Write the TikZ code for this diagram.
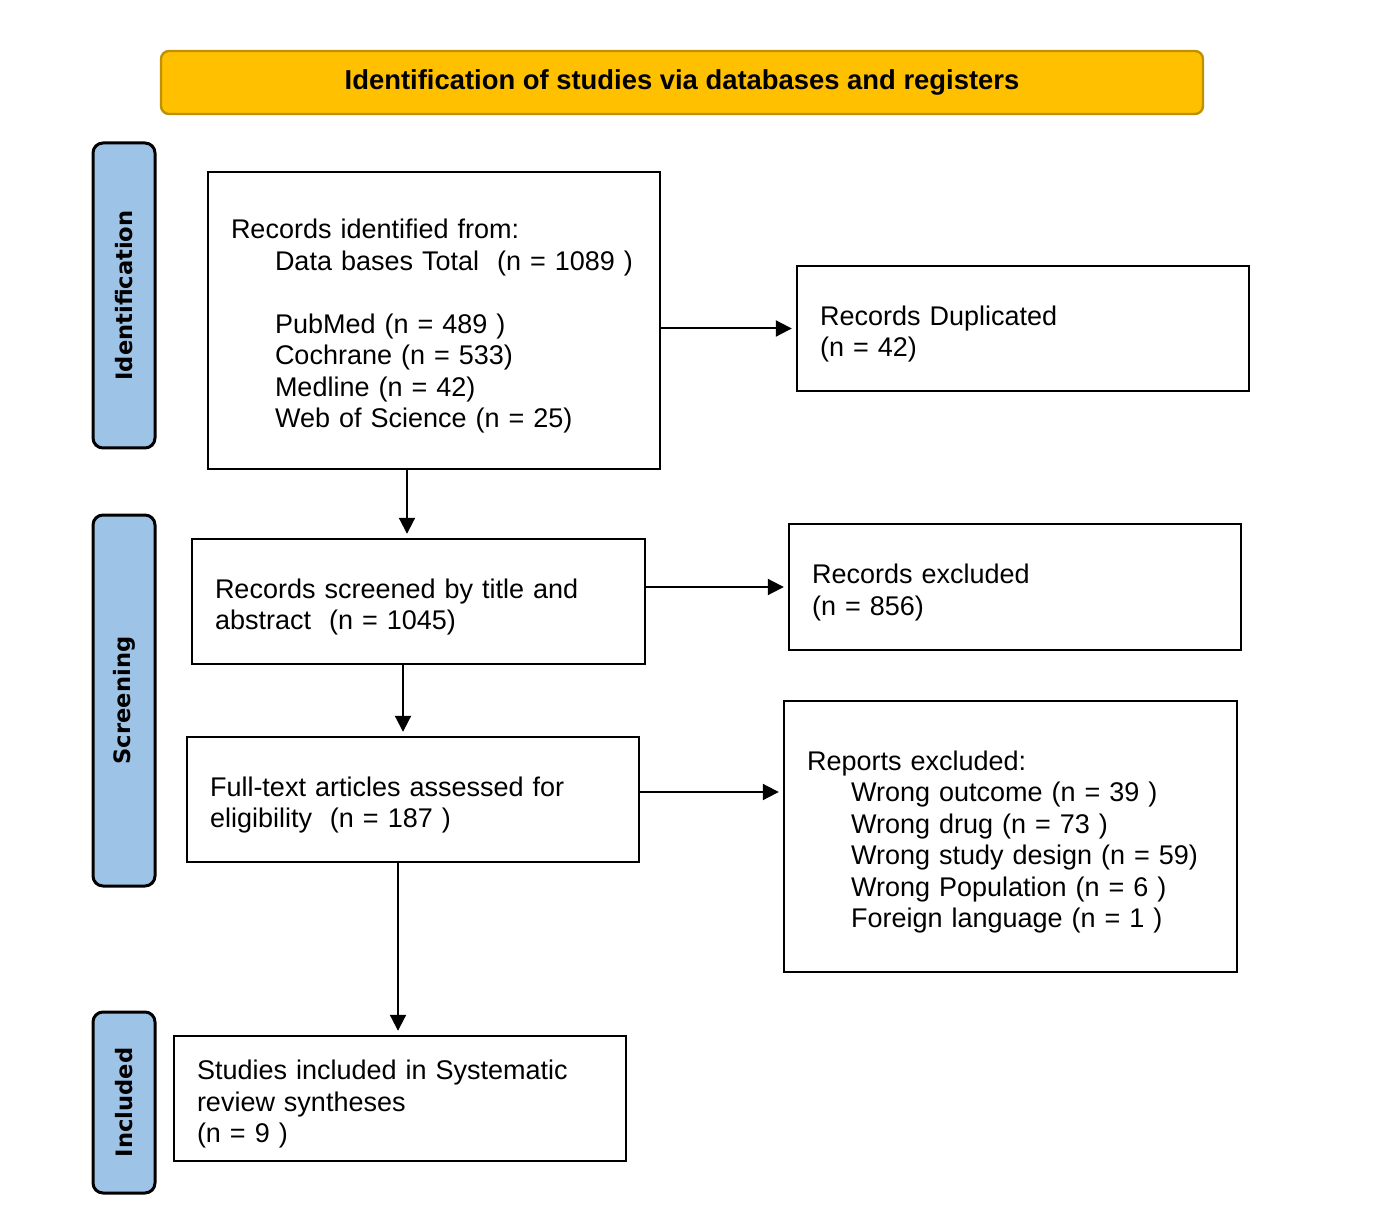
\documentclass[tikz,border=0pt]{standalone}
\usepackage{fontspec}
\setmainfont{Liberation Sans}
\newfontfamily\sidefont{DejaVu Sans}
\usetikzlibrary{arrows.meta}
\definecolor{hdrfill}{HTML}{FFC000}
\definecolor{hdrline}{HTML}{BF9000}
\definecolor{sidefill}{HTML}{9DC3E6}
\newcommand{\tallfirst}{\rule{0pt}{15.5pt}}
\tikzset{
  x=0.5pt, y=-0.5pt,
  flowbox/.style={draw=black, line width=1.2pt, fill=white, align=left,
    inner xsep=11.5pt, inner ysep=0pt, font=\fontsize{13.5}{15.75}\selectfont},
  bx/.style 2 args={minimum width=#1pt, minimum height=#2pt, text width=#1pt-23pt},
  sidebox/.style={draw=black, line width=1.5pt, fill=sidefill, rounded corners=5pt,
    rotate=90, minimum height=31pt, inner sep=0pt,
    font=\sidefont\bfseries\fontsize{11.3}{13}\selectfont},
  hdrbox/.style={draw=hdrline, line width=1.2pt, fill=hdrfill, rounded corners=4pt,
    minimum width=521pt, minimum height=31.5pt, inner sep=0pt,
    font=\bfseries\fontsize{13.7}{15}\selectfont},
  arr/.style={line width=1pt, -{Triangle[length=8pt,width=8pt]}, shorten >=2pt}
}
\begin{document}
\begin{tikzpicture}
\useasboundingbox (0,0) rectangle (1374,1229);
\node[hdrbox] (hdr) at (682,82.5) {Identification of studies via databases and registers};
\node[sidebox, minimum width=152.5pt] (sid) at (124,295.5) {Identification};
\node[sidebox, minimum width=185.5pt] (sscr) at (124,700.5) {Screening};
\node[sidebox, minimum width=90.5pt] (sinc) at (124,1102.5) {Included};

\node[flowbox, bx={226}{148.5}] (ident) at (434,320.5) {\tallfirst Records identified from:\\
\hspace*{22pt}Data bases Total\ \ (n = 1089 )\\[15.75pt]
\hspace*{22pt}PubMed (n = 489 )\\
\hspace*{22pt}Cochrane (n = 533)\\
\hspace*{22pt}Medline (n = 42)\\
\hspace*{22pt}Web of Science (n = 25)};
\node[flowbox, bx={226}{62.5}] (dup) at (1023,328.5) {\tallfirst Records Duplicated\\(n = 42)};
\node[flowbox, bx={226.5}{62.5}] (scr) at (418.5,601.5) {\tallfirst Records screened by title and\\abstract\ \ (n = 1045)};
\node[flowbox, bx={226}{63}] (exc) at (1015,587) {\tallfirst Records excluded\\(n = 856)};
\node[flowbox, bx={226}{62.5}] (full) at (413,799.5) {\tallfirst Full-text articles assessed for\\eligibility\ \ (n = 187 )};
\node[flowbox, bx={226.5}{135.5}] (rep) at (1010.5,836.5) {\tallfirst Reports excluded:\\
\hspace*{22pt}Wrong outcome (n = 39 )\\
\hspace*{22pt}Wrong drug (n = 73 )\\
\hspace*{22pt}Wrong study design (n = 59)\\
\hspace*{22pt}Wrong Population (n = 6 )\\
\hspace*{22pt}Foreign language (n = 1 )};
\node[flowbox, bx={226}{62.5}] (inc) at (400,1098.5) {\tallfirst Studies included in Systematic\\review syntheses\\(n = 9 )};

\draw[arr] (ident.east |- dup.west) -- (dup.west);
\draw[arr] (scr.east |- exc.west) -- (exc.west);
\path ([yshift=3.75pt]full.east) coordinate (fr);
\draw[arr] (fr) -- (rep.west |- fr);
\path ([xshift=-13.5pt]ident.south) coordinate (d1);
\draw[arr] (d1) -- (scr.north -| d1);
\path ([xshift=-7.75pt]scr.south) coordinate (d2);
\draw[arr] (d2) -- (full.north -| d2);
\path ([xshift=-7.5pt]full.south) coordinate (d3);
\draw[arr] (d3) -- (inc.north -| d3);
\end{tikzpicture}
\end{document}
